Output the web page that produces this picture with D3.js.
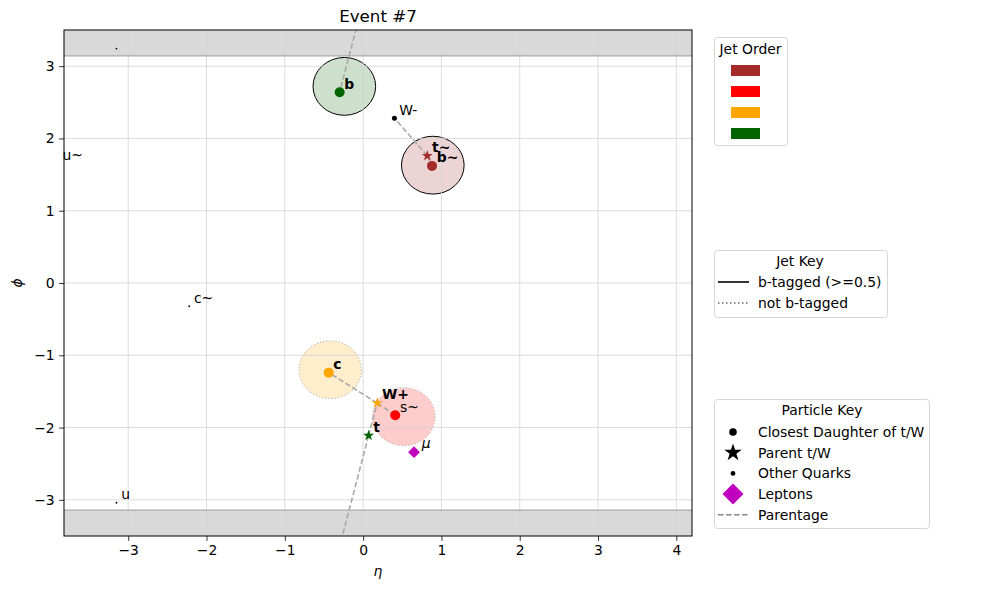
<!DOCTYPE html>
<html>
<head>
<meta charset="utf-8">
<script src="https://cdn.jsdelivr.net/npm/d3@7"></script>
<style>
  body { margin: 0; background: #fff; }
  svg { font-family: "DejaVu Sans", sans-serif; }
</style>
</head>
<body>
<div id="chart"></div>
<script>
//Datos del evento
const particleNames = ['b', 'b~', 't~', 'W-', 'c', 'W+', 's~', 't', 'μ', 'u~', 'c~', 'u'];
const particleEta = [-0.30, 0.88, 0.82, 0.40, -0.44, 0.18, 0.41, 0.07, 0.65, -3.90, -2.22, -3.15];
const particlePhi = [2.64, 1.62, 1.76, 2.28, -1.24, -1.66, -1.83, -2.11, -2.34, 1.65, -0.32, -3.04];
const particleKind = ['daughter', 'daughter', 'parent', 'other', 'daughter', 'parent', 'daughter', 'parent', 'lepton', 'minor', 'minor', 'minor'];
const particleColor = ['#006400', '#a52a2a', '#a52a2a', '#000000', '#ffa500', '#ffa500', '#ff0000', '#006400', '#bf00bf', '#000000', '#000000', '#000000'];
const particleBold = [true, true, true, false, true, true, false, true, false, false, false, false];

//Relaciones padre > hijo
const parentage = [['t~', 'W-'], ['t~', 'b~'], ['W+', 'c'], ['W+', 's~'], ['t', 'W+'], ['t', 'b']];

//Jets
const jetEta = [0.89, 0.52, -0.42, -0.24];
const jetPhi = [1.63, -1.85, -1.20, 2.72];
const jetColor = ['#a52a2a', '#ff0000', '#ffa500', '#006400'];
const jetBtag = [0.92, 0.12, 0.08, 0.88];
const jetRadius = 0.4;

//Ejes
const xTicks = [-3, -2, -1, 0, 1, 2, 3, 4];
const yTicks = [-3, -2, -1, 0, 1, 2, 3];

const W = 990, H = 590;
const margin = {top: 30, right: 298, bottom: 54, left: 64};
const width = W - margin.left - margin.right,
      height = H - margin.top - margin.bottom;

const svg = d3.select('#chart').append('svg')
    .attr('width', W).attr('height', H);

const g = svg.append('g')
    .attr('transform', 'translate(' + margin.left + ',' + margin.top + ')');

const x = d3.scaleLinear().domain([-3.82, 4.2]).range([0, width]);
const y = d3.scaleLinear().domain([-3.5, 3.5]).range([height, 0]);

g.append('clipPath').attr('id', 'clip')
  .append('rect').attr('width', width).attr('height', height);

const plot = g.append('g').attr('clip-path', 'url(#clip)');

//Bandas fuera de [-pi, pi]
plot.append('rect')
    .attr('x', 0).attr('width', width)
    .attr('y', y(3.5)).attr('height', y(Math.PI) - y(3.5))
    .attr('fill', '#d9d9d9');
plot.append('rect')
    .attr('x', 0).attr('width', width)
    .attr('y', y(-Math.PI)).attr('height', y(-3.5) - y(-Math.PI))
    .attr('fill', '#d9d9d9');

//Jets
jetEta.forEach(function(e, i) {
    const btag = jetBtag[i] >= 0.5;
    plot.append('ellipse')
        .attr('cx', x(e)).attr('cy', y(jetPhi[i]))
        .attr('rx', x(jetRadius) - x(0)).attr('ry', y(0) - y(jetRadius))
        .attr('fill', jetColor[i]).attr('fill-opacity', 0.2)
        .attr('stroke', btag ? '#000' : '#999')
        .attr('stroke-opacity', btag ? 1 : 0.6)
        .attr('stroke-width', btag ? 1 : 1.2)
        .attr('stroke-dasharray', btag ? null : '1.2,2');
});

//Grid
plot.append('g').selectAll('line').data(xTicks).enter().append('line')
    .attr('x1', d => x(d)).attr('x2', d => x(d))
    .attr('y1', 0).attr('y2', height)
    .attr('stroke', '#d3d3d3').attr('stroke-width', 0.8);
plot.append('g').selectAll('line').data(yTicks).enter().append('line')
    .attr('y1', d => y(d)).attr('y2', d => y(d))
    .attr('x1', 0).attr('x2', width)
    .attr('stroke', '#d3d3d3').attr('stroke-width', 0.8);

[Math.PI, -Math.PI].forEach(function(p) {
    plot.append('line')
        .attr('x1', 0).attr('x2', width)
        .attr('y1', y(p)).attr('y2', y(p))
        .attr('stroke', '#aaaaaa').attr('stroke-width', 1.2);
});

//Parentesco (con vuelta en phi)
function idx(name) { return particleNames.indexOf(name); }
parentage.forEach(function(pair) {
    const a = idx(pair[0]), b = idx(pair[1]);
    const dphi = particlePhi[b] - particlePhi[a];
    let segs = [];
    if (Math.abs(dphi) > Math.PI) {
        const s = dphi > 0 ? 1 : -1;
        segs.push([[particleEta[a], particlePhi[a]], [particleEta[b], particlePhi[b] - s * 2 * Math.PI]]);
        segs.push([[particleEta[a], particlePhi[a] + s * 2 * Math.PI], [particleEta[b], particlePhi[b]]]);
    } else {
        segs.push([[particleEta[a], particlePhi[a]], [particleEta[b], particlePhi[b]]]);
    }
    segs.forEach(function(sg) {
        plot.append('line')
            .attr('x1', x(sg[0][0])).attr('y1', y(sg[0][1]))
            .attr('x2', x(sg[1][0])).attr('y2', y(sg[1][1]))
            .attr('stroke', '#aaaaaa').attr('stroke-width', 1.6)
            .attr('stroke-dasharray', '5.5,2.5');
    });
});

//Marcadores
function drawMarker(sel, kind, color, px, py, big) {
    if (kind === 'daughter') {
        sel.append('circle').attr('cx', px).attr('cy', py).attr('r', big ? 3.8 : 5).attr('fill', color);
    } else if (kind === 'parent') {
        sel.append('path').attr('d', d3.symbol(d3.symbolStar, big ? 95 : 38)())
            .attr('transform', 'translate(' + px + ',' + py + ')').attr('fill', color);
    } else if (kind === 'other') {
        sel.append('circle').attr('cx', px).attr('cy', py).attr('r', big ? 2.4 : 2.5).attr('fill', color);
    } else if (kind === 'lepton') {
        sel.append('path').attr('d', d3.symbol(d3.symbolSquare, big ? 220 : 70)())
            .attr('transform', 'translate(' + px + ',' + py + ') rotate(45)').attr('fill', color);
    } else {
        sel.append('circle').attr('cx', px).attr('cy', py).attr('r', 0.9).attr('fill', color);
    }
}

particleNames.forEach(function(n, i) {
    drawMarker(plot, particleKind[i], particleColor[i], x(particleEta[i]), y(particlePhi[i]), false);
    //copia envuelta en phi
    [2 * Math.PI, -2 * Math.PI].forEach(function(s) {
        const p = particlePhi[i] + s;
        if (p > -3.5 && p < 3.5) {
            drawMarker(plot, particleKind[i], particleColor[i], x(particleEta[i]), y(p), false);
        }
    });
});

//Etiquetas
particleNames.forEach(function(n, i) {
    g.append('text')
        .attr('x', x(particleEta[i] + 0.06) + (particleKind[i] === 'lepton' ? 3 : 0))
        .attr('y', y(particlePhi[i] + 0.05) + (particleKind[i] === 'lepton' ? -1 : 0))
        .attr('font-size', '13.9px')
        .attr('font-weight', particleBold[i] ? 'bold' : 'normal')
        .attr('font-style', particleKind[i] === 'lepton' ? 'italic' : 'normal')
        .text(n);
});

//Ejes
const xAxis = g.append('g')
    .attr('transform', 'translate(0,' + height + ')')
    .call(d3.axisBottom(x).tickValues(xTicks).tickSize(4.9).tickPadding(4.5)
        .tickFormat(d => d < 0 ? '\u2212' + Math.abs(d) : d));
const yAxis = g.append('g')
    .call(d3.axisLeft(y).tickValues(yTicks).tickSize(4.9).tickPadding(4.5)
        .tickFormat(d => d < 0 ? '\u2212' + Math.abs(d) : d));
[xAxis, yAxis].forEach(function(a) {
    a.select('.domain').remove();
    a.selectAll('text').attr('font-size', '13.9px').attr('fill', '#000').attr('font-family', '"DejaVu Sans", sans-serif');
    a.selectAll('line').attr('stroke', '#000').attr('stroke-width', 0.8);
});

g.append('rect')
    .attr('width', width).attr('height', height)
    .attr('fill', 'none').attr('stroke', '#000').attr('stroke-width', 1);

//Títulos
g.append('text').attr('x', width / 2).attr('y', -8)
    .attr('text-anchor', 'middle').attr('font-size', '16.7px').text('Event #7');
g.append('text').attr('x', width / 2).attr('y', height + 40)
    .attr('text-anchor', 'middle').attr('font-size', '13.9px').attr('font-style', 'italic').text('η');
g.append('text')
    .attr('transform', 'translate(' + (-42) + ',' + (height / 2) + ') rotate(-90)')
    .attr('text-anchor', 'middle').attr('font-size', '13.9px').attr('font-style', 'italic').text('ϕ');

//Leyendas
function legendBox(x0, y0, w, h) {
    svg.append('rect')
        .attr('x', x0).attr('y', y0).attr('width', w).attr('height', h)
        .attr('rx', 3).attr('fill', '#fff').attr('fill-opacity', 0.8)
        .attr('stroke', '#d6d6d6').attr('stroke-width', 1);
}

//Jet Order
legendBox(714.5, 37.5, 73, 108);
svg.append('text').attr('x', 750.5, ).attr('y', 54).attr('text-anchor', 'middle')
    .attr('font-size', '13.9px').text('Jet Order');
jetColor.forEach(function(c, i) {
    svg.append('rect')
        .attr('x', 731).attr('y', 65 + i * 21).attr('width', 29).attr('height', 11)
        .attr('fill', c);
});

//Jet Key
legendBox(714.5, 250.5, 173, 67);
svg.append('text').attr('x', 800).attr('y', 266).attr('text-anchor', 'middle')
    .attr('font-size', '13.9px').text('Jet Key');
svg.append('line').attr('x1', 718).attr('x2', 749).attr('y1', 282).attr('y2', 282)
    .attr('stroke', '#000').attr('stroke-width', 1.6);
svg.append('line').attr('x1', 718).attr('x2', 749).attr('y1', 303).attr('y2', 303)
    .attr('stroke', '#666').attr('stroke-width', 1.5).attr('stroke-dasharray', '1.5,2.5');
svg.append('text').attr('x', 758).attr('y', 287).attr('font-size', '13.9px').text('b-tagged (>=0.5)');
svg.append('text').attr('x', 758).attr('y', 308).attr('font-size', '13.9px').text('not b-tagged');

//Particle Key
const keyLabels = ['Closest Daughter of t/W', 'Parent t/W', 'Other Quarks', 'Leptons', 'Parentage'];
const keyKinds = ['daughter', 'parent', 'other', 'lepton', 'line'];
const keyColors = ['#000', '#000', '#000', '#bf00bf', '#888'];
legendBox(714.5, 399.5, 215, 129);
svg.append('text').attr('x', 822).attr('y', 415).attr('text-anchor', 'middle')
    .attr('font-size', '13.9px').text('Particle Key');
keyLabels.forEach(function(l, i) {
    const yy = 432 + i * 20.7;
    if (keyKinds[i] === 'line') {
        svg.append('line').attr('x1', 718).attr('x2', 748).attr('y1', yy).attr('y2', yy)
            .attr('stroke', '#888').attr('stroke-width', 1.5).attr('stroke-dasharray', '5.5,2.5');
    } else {
        drawMarker(svg, keyKinds[i], keyColors[i], 733, yy, true);
    }
    svg.append('text').attr('x', 758).attr('y', yy + 5).attr('font-size', '13.9px').text(l);
});
</script>
</body>
</html>
